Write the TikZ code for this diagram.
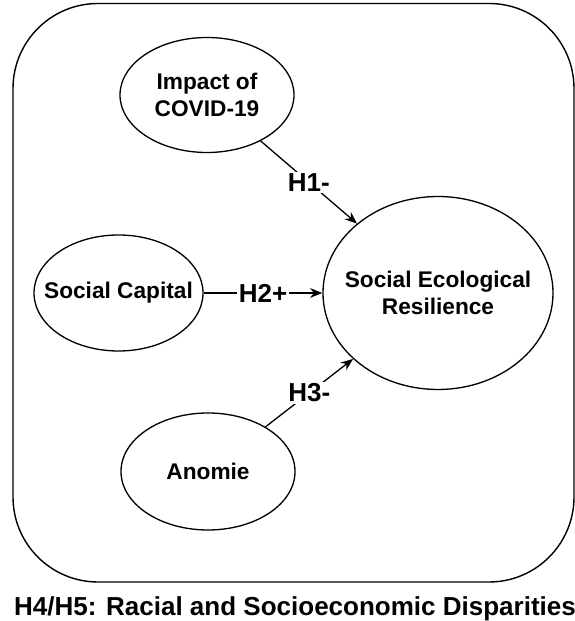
\documentclass[tikz,border=0pt]{standalone}
\usepackage{fontspec}
\setmainfont{Liberation Sans}
\usetikzlibrary{shapes.geometric, arrows.meta}

% zero-width line, so the ellipse keeps its set size
\newcommand{\zline}[1]{\makebox[0pt]{#1}}

\begin{document}
\begin{tikzpicture}[
  construct/.style={ellipse, draw, line width=0.75pt, inner sep=0pt, align=center,
    font=\fontsize{12.9}{15.4}\selectfont\bfseries},
  hyp/.style={fill=white, inner sep=1pt, font=\fontsize{14.8}{17}\selectfont\bfseries},
  link/.style={line width=0.75pt, -{Stealth[length=7pt, width=5.5pt]}}
]

\useasboundingbox (0,0) rectangle (11.5,12.42);
\draw[line width=0.8pt, rounded corners=1.7cm] (0.26,0.78) rectangle (11.48,12.35);

\node[construct, minimum width=3.48cm, minimum height=2.3cm] (covid) at (4.14,10.52) {\zline{Impact of}\\\zline{COVID-19}};
\node[construct, minimum width=3.38cm, minimum height=2.32cm] (capital) at (2.37,6.56) {\zline{Social Capital}};
\node[construct, minimum width=3.48cm, minimum height=2.34cm] (anomie) at (4.16,2.99) {\zline{Anomie}};
\node[construct, minimum width=4.6cm, minimum height=3.86cm] (ser) at (8.76,6.56) {\zline{Social Ecological}\\\zline{Resilience}};

\draw[link] (covid) -- node[hyp] {H1-} (ser);
\draw[link] (capital) -- node[hyp] {H2+} (ser);
\draw[link] (anomie) -- node[hyp] {H3-} (ser);

\node[anchor=base, font=\fontsize{14.8}{17}\selectfont\bfseries] (caption) at (5.9,0.12) {H4/H5: Racial and Socioeconomic Disparities};

\end{tikzpicture}
\end{document}
